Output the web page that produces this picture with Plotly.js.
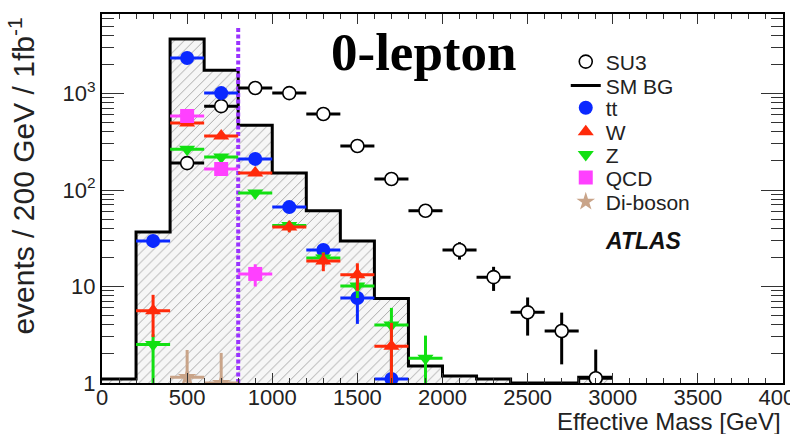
<!DOCTYPE html>
<html>
<head>
<meta charset="utf-8">
<script src="https://cdn.plot.ly/plotly-3.0.1.min.js"></script>
<style>
  html, body { margin: 0; padding: 0; background: #fff; }
  #chart { width: 790px; height: 434px; }
</style>
</head>
<body>
<div id="chart"></div>
<script>
// Effective-mass distribution, 0-lepton channel, 1 fb^-1, 200 GeV bins

// SM background histogram: lower bin edges and bin contents
const binLow  = [0, 200, 400, 600, 800, 1000, 1200, 1400, 1600, 1800, 2000, 2200, 2400, 2600, 2800];
const smBG    = [1.1, 36.7, 3670, 1740, 470, 150, 61, 29.6, 7.5, 1.5, 1.18, 1.1, 1, 1, 1.15];
const binWidth = 200;

// SU3 signal points
const su3X   = [500, 700, 900, 1100, 1300, 1500, 1700, 1900, 2100, 2300, 2500, 2700, 2900];
const su3Y   = [190, 740, 1140, 1010, 613, 286, 130, 61, 23.9, 12.5, 5.4, 3.46, 1.12];
const su3Err = [14, 27, 34, 32, 25, 17, 11, 8, 4.9, 3.5, 2.3, 1.9, 1.1];

// ttbar
const ttX   = [300, 500, 700, 900, 1100, 1300, 1500, 1700];
const ttY   = [29.7, 2330, 1010, 210, 66.5, 23.9, 7.6, 1.1];
const ttErr = [4.5, 40, 25, 10, 5, 3, 3.5, 1.0];

// W + jets
const wX   = [300, 500, 700, 900, 1100, 1300, 1500, 1700];
const wY   = [5.6, 495, 363, 150, 41.4, 18.4, 13.2, 2.4];
const wErr = [2.6, 18, 15, 9, 5, 4, 4.2, 1.8];

// Z + jets
const zX       = [300, 500, 700, 900, 1100, 1300, 1500, 1700, 1900];
const zY       = [2.5, 265, 220, 93, 43, 19.7, 10.1, 4.0, 1.8];
const zErrUp   = [0.7, 12, 11, 7, 5, 3, 2.5, 2.0, 1.3];
const zErrDown = [1.8, 12, 11, 7, 5, 3, 2.5, 3.3, 1.1];

// QCD multijet
const qcdX   = [500, 700, 900];
const qcdY   = [585, 165, 13.5];
const qcdErr = [40, 20, 3.5];

// Di-boson
const dibX       = [500, 700];
const dibY       = [1.15, 1.0];
const dibErrUp   = [1.05, 1.05];
const dibErrDown = [0.5, 0.5];

// Effective-mass cut and its drawn extent
const cutMass = 800;
const cutSpan = [1, 4800];

const tickVals = [1, 10, 100, 1000];
const tickText = ['1', '10', '10<sup>2</sup>', '10<sup>3</sup>'];
const xTickVals = [0, 500, 1000, 1500, 2000, 2500, 3000, 3500, 4000];

const SANS = '"Liberation Sans", Arial, Helvetica, sans-serif';

const binCentres = binLow.map(v => v + binWidth / 2);
const stepX = binLow.concat([binLow[binLow.length - 1] + binWidth]);
const stepY = smBG.concat([smBG[smBG.length - 1]]);

function points(name, legendId, x, y, up, down, color, symbol, size, lineColor) {
  return {
    type: 'scatter', mode: 'markers', name: name, x: x, y: y,
    legend: legendId,
    marker: {
      symbol: symbol, size: size, color: color,
      line: { color: lineColor || color, width: lineColor ? 1.6 : 0 }
    },
    error_y: {
      type: 'data', symmetric: false, array: up, arrayminus: down,
      color: lineColor || color, thickness: 3, width: 0
    },
    error_x: { type: 'constant', value: binWidth / 2, color: lineColor || color, thickness: 3, width: 0 }
  };
}

const traces = [
  {
    type: 'bar', x: binCentres, y: smBG, width: binWidth, showlegend: false,
    marker: {
      color: '#f6f6f6', line: { width: 0 },
      pattern: { shape: '/', fgcolor: '#a8a8a8', bgcolor: '#f6f6f6', size: 7, solidity: 0.14 }
    }
  },
  {
    type: 'scatter', mode: 'lines', name: 'SM BG', x: stepX, y: stepY,
    legend: 'legend2', line: { shape: 'hv', color: '#000', width: 3 }
  },
  {
    type: 'scatter', mode: 'lines', x: [cutMass, cutMass], y: cutSpan, showlegend: false,
    line: { color: '#9933ff', width: 4, dash: '4px,2.5px' }
  },
  points('SU3', 'legend', su3X, su3Y, su3Err, su3Err, '#ffffff', 'circle', 13, '#000000'),
  points('tt', 'legend3', ttX, ttY, ttErr, ttErr, '#0a28ff', 'circle', 14),
  points('Z', 'legend5', zX, zY, zErrUp, zErrDown, '#12e012', 'triangle-down', 14),
  points('W', 'legend4', wX, wY, wErr, wErr, '#ff2a0a', 'triangle-up', 14),
  points('QCD', 'legend6', qcdX, qcdY, qcdErr, qcdErr, '#ff40ff', 'square', 14),
  points('Di-boson', 'legend7', dibX, dibY, dibErrUp, dibErrDown, '#c9a489', 'star', 14)
];

// one legend box per entry so the entries sit on a tight, even pitch
const legendRows = [0.870, 0.805, 0.745, 0.680, 0.618, 0.556, 0.4905];
function legendBox(yPos) {
  return {
    x: 0.681, y: yPos, xanchor: 'left', yanchor: 'middle',
    bgcolor: 'rgba(0,0,0,0)', borderwidth: 0,
    font: { family: SANS, size: 21, color: '#222' },
    itemwidth: 30
  };
}

const layout = {
  width: 790, height: 434,
  margin: { l: 102, r: 7, t: 14, b: 51 },
  paper_bgcolor: '#ffffff', plot_bgcolor: '#ffffff',
  showlegend: true,
  hovermode: false,
  font: { family: SANS, color: '#222' },
  bargap: 0,
  xaxis: {
    range: [0, 4000], type: 'linear',
    showgrid: false, zeroline: false,
    showline: true, linecolor: '#000', linewidth: 2, mirror: 'ticks',
    ticks: 'inside', ticklen: 10, tickwidth: 1, tickcolor: '#333',
    tickmode: 'array', tickvals: xTickVals, ticklabeloverflow: 'allow',
    ticklabelstandoff: -6,
    tickfont: { family: SANS, size: 22, color: '#222' },
    minor: { dtick: 100, ticklen: 5, tickwidth: 1, tickcolor: '#333', ticks: 'inside', showgrid: false }
  },
  yaxis: {
    type: 'log', range: [0, 3.824],
    showgrid: false, zeroline: false,
    showline: true, linecolor: '#000', linewidth: 2, mirror: 'ticks',
    ticks: 'inside', ticklen: 22, tickwidth: 1, tickcolor: '#333',
    tickmode: 'array', tickvals: tickVals, ticktext: tickText,
    tickfont: { family: SANS, size: 22, color: '#222' },
    minor: { dtick: 'D1', ticklen: 12, tickwidth: 1, tickcolor: '#333', ticks: 'inside', showgrid: false }
  },
  annotations: [
    {
      text: '<b>0-lepton</b>', xref: 'paper', yref: 'paper', x: 0.473, y: 0.897,
      xanchor: 'center', yanchor: 'middle', showarrow: false,
      font: { family: '"Liberation Serif", "Times New Roman", serif', size: 53, color: '#000' }
    },
    {
      text: '<b><i>ATLAS</i></b>', xref: 'paper', yref: 'paper', x: 0.736, y: 0.385,
      xanchor: 'left', yanchor: 'middle', showarrow: false,
      font: { family: SANS, size: 23, color: '#111' }
    },
    {
      text: 'Effective Mass [GeV]', xref: 'paper', yref: 'paper', x: 1, y: -0.103,
      xanchor: 'right', yanchor: 'middle', showarrow: false,
      font: { family: SANS, size: 24, color: '#222' }
    },
    {
      text: 'events / 200 GeV / 1fb<sup>-1</sup>', xref: 'paper', yref: 'paper',
      x: -0.118, y: 0.996, xanchor: 'center', yanchor: 'top', textangle: -90, showarrow: false,
      font: { family: SANS, size: 30, color: '#222' }
    }
  ]
};
['legend', 'legend2', 'legend3', 'legend4', 'legend5', 'legend6', 'legend7'].forEach((id, i) => {
  layout[id] = legendBox(legendRows[i]);
});

Plotly.newPlot('chart', traces, layout, { staticPlot: true, displayModeBar: false });
</script>
</body>
</html>
